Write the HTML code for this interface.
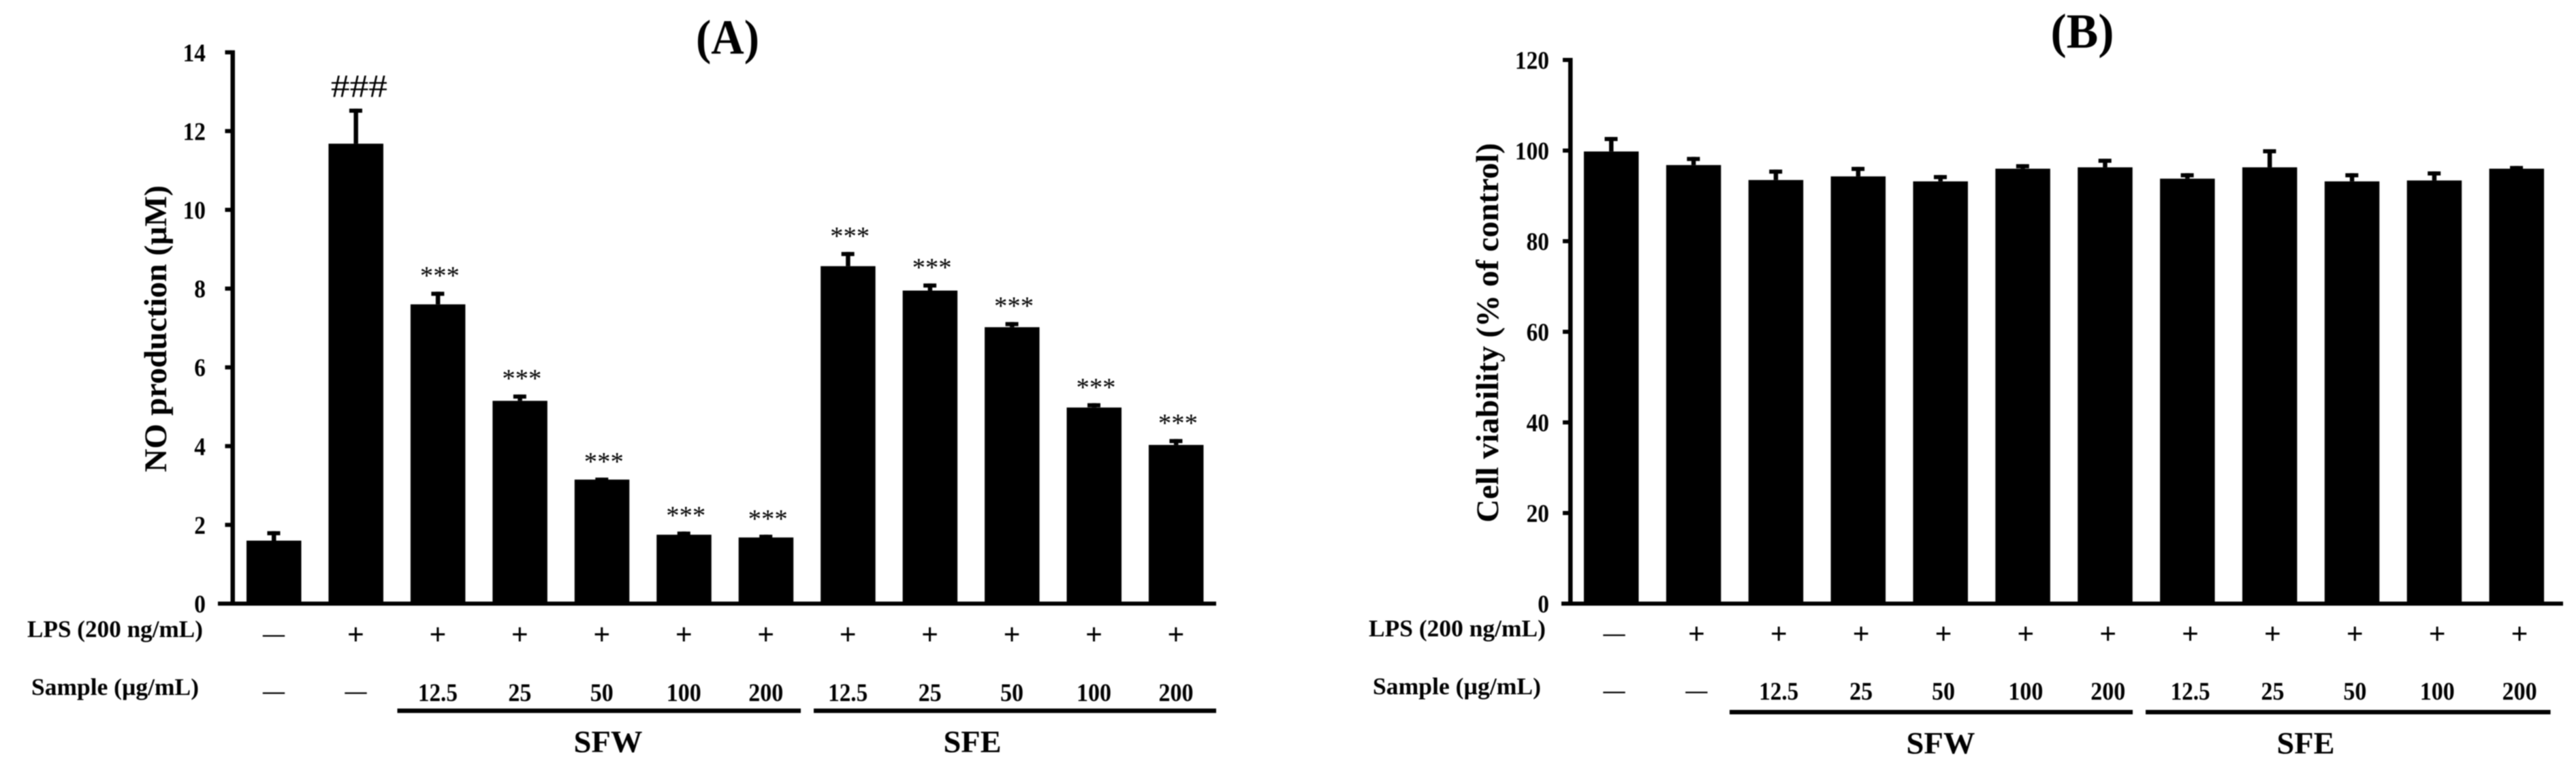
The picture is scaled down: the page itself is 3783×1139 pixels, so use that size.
<!DOCTYPE html>
<html lang="en">
<head>
<meta charset="utf-8">
<title>NO production and cell viability bar charts</title>
<style>
html,body{margin:0;padding:0;background:#fff;width:3783px;height:1139px;overflow:hidden}
svg{display:block;position:absolute;left:0;top:0}
text{font-family:"Liberation Serif","Times New Roman",serif;fill:#000}
</style>
</head>
<body>
<svg id="figure" xmlns="http://www.w3.org/2000/svg" width="3783" height="1139" viewBox="0 0 3783 1139">
<defs><filter id="soft" x="-5%" y="-5%" width="110%" height="110%"><feGaussianBlur stdDeviation="0.8"/></filter></defs>
<rect width="3783" height="1139" fill="#fff"/>
<g id="root" filter="url(#soft)"></g>
</svg>
<script>
const lpsRow = ['—','+','+','+','+','+','+','+','+','+','+','+'];
const sampleRow = ['—','—','12.5','25','50','100','200','12.5','25','50','100','200'];
const noValues = [1.6,11.68,7.6,5.15,3.15,1.75,1.68,8.57,7.95,7.02,4.98,4.03];
const noErrors = [0.24,0.89,0.32,0.16,0.05,0.08,0.07,0.36,0.18,0.13,0.11,0.15];
const noMarks = ['','###','***','***','***','***','***','***','***','***','***','***'];
const noTicks = [0,2,4,6,8,10,12,14];
const viabilityValues = [99.8,96.8,93.5,94.3,93.2,96,96.3,93.8,96.3,93.2,93.4,96];
const viabilityErrors = [3.2,1.8,2.3,2.1,1.4,1,1.9,1.2,4,1.8,2,0.6];
const viabilityTicks = [0,20,40,60,80,100,120];

const NS = 'http://www.w3.org/2000/svg';
const root = document.getElementById('root');

function rect(parent, name, x, y, w, h) {
  const el = document.createElementNS(NS, 'rect');
  
  
  el.setAttribute('x', x);
  el.setAttribute('y', y);
  el.setAttribute('width', w);
  el.setAttribute('height', h);
  el.setAttribute('fill', '#000');
  parent.appendChild(el);
  return el;
}

function label(parent, name, str, x, y, size, weight, anchor, len) {
  const el = document.createElementNS(NS, 'text');
  
  
  el.setAttribute('x', x);
  el.setAttribute('y', y);
  el.setAttribute('font-size', size);
  el.setAttribute('font-weight', weight);
  el.setAttribute('text-anchor', anchor);
  if (len) {
    el.setAttribute('textLength', len);
    el.setAttribute('lengthAdjust', 'spacingAndGlyphs');
  }
  el.textContent = str;
  parent.appendChild(el);
  return el;
}

function drawPanel(c) {
  const g = document.createElementNS(NS, 'g');
  
  
  root.appendChild(g);

  const y = v => c.y0 - v * c.yUnit;
  const x = i => c.x0 + c.pitch * i;
  const rowX = i => x(i) + c.rowShift;

  label(g, 'panel-title', c.title, c.titleX, c.titleY, 72, 'bold', 'middle', 93);

  // bars and error bars
  c.values.forEach((v, i) => {
    rect(g, 'bar-' + (i + 1), x(i) - 40, y(v), 80.5, c.y0 - y(v));
    const top = y(v + c.errors[i]);
    rect(g, 'error-stem-' + (i + 1), x(i) - 3, top, 6.5, y(v) - top);
    rect(g, 'error-cap-' + (i + 1), x(i) - 9.5, top, 19, 6);
    if (c.marks && c.marks[i]) {
      if (c.marks[i] === '###') {
        label(g, 'significance-hash', c.marks[i], x(i) + 5, top - 17, 48, 'normal', 'middle', 83);
      } else {
        label(g, 'significance-stars-' + (i + 1), c.marks[i], x(i) + 3, top - 11, 38, 'normal', 'middle', 58);
      }
    }
  });

  // axes
  const axisTop = y(c.ticks[c.ticks.length - 1]);
  rect(g, 'y-axis-line', c.axisX - 3, axisTop - 3, 6.5, c.y0 - axisTop + 6);
  rect(g, 'x-axis-line', c.baseStart, c.y0 - 3, c.baseEnd - c.baseStart, 6);
  c.ticks.forEach(t => {
    rect(g, 'y-tick-' + t, c.axisX - 11, y(t) - 3, 9, 6);
    label(g, 'y-tick-label-' + t, String(t), c.axisX - c.tickGap, y(t) + 13, 37, 'bold', 'end', String(t).length * 16.7);
  });

  // y axis title
  const title = label(g, 'y-axis-title', c.yTitle, 0, 0, 47, 'bold', 'middle', c.yTitleLen);
  title.setAttribute('transform', 'translate(' + c.yTitleX + ',' + c.yTitleY + ') rotate(-90)');

  // condition rows
  label(g, 'lps-row-label', 'LPS (200 ng/mL)', c.lpsX, c.lpsY, 35, 'bold', 'start', c.lpsLen);
  label(g, 'sample-row-label', 'Sample (µg/mL)', c.sampleX, c.sampleY, 35, 'bold', 'start', c.sampleLen);
  lpsRow.forEach((s, i) => {
    label(g, 'lps-value-' + (i + 1), s, rowX(i), s === '+' ? c.lpsY + 11 : c.lpsY + 6, s === '+' ? 44 : 32, 'bold', 'middle');
  });
  sampleRow.forEach((s, i) => {
    if (s === '—') {
      label(g, 'sample-value-' + (i + 1), s, rowX(i), c.sampleY + 5, 32, 'bold', 'middle');
    } else {
      label(g, 'sample-value-' + (i + 1), s, rowX(i), c.doseY, 37, 'bold', 'middle', (s === '12.5' ? 58 : s.length * 17));
    }
  });

  // group brackets
  rect(g, 'sfw-bracket', c.sfwStart, c.bracketY, c.sfwEnd - c.sfwStart, 6.5);
  rect(g, 'sfe-bracket', c.sfeStart, c.bracketY, c.sfeEnd - c.sfeStart, 6.5);
  label(g, 'sfw-group-label', 'SFW', c.sfwLabelX, c.groupY, 46, 'bold', 'middle', 101);
  label(g, 'sfe-group-label', 'SFE', c.sfeLabelX, c.groupY, 46, 'bold', 'middle', 85);
}

drawPanel({
  id: 'panel-a', title: '(A)', titleX: 1068.5, titleY: 79,
  values: noValues, errors: noErrors, marks: noMarks, ticks: noTicks,
  y0: 886, yUnit: 57.8, x0: 402, pitch: 120.45, rowShift: 0, axisX: 341.5, tickGap: 39.5, baseStart: 320, baseEnd: 1786,
  yTitle: 'NO production (µM)', yTitleLen: 421, yTitleX: 244, yTitleY: 482.5,
  lpsX: 40, lpsY: 935, lpsLen: 258, sampleX: 46, sampleY: 1020, sampleLen: 246, doseY: 1029,
  sfwStart: 583.5, sfwEnd: 1176, sfeStart: 1195, sfeEnd: 1786, bracketY: 1040,
  sfwLabelX: 893, sfeLabelX: 1428, groupY: 1104
});

drawPanel({
  id: 'panel-b', title: '(B)', titleX: 3058, titleY: 70,
  values: viabilityValues, errors: viabilityErrors, marks: null, ticks: viabilityTicks,
  y0: 886, yUnit: 6.65, x0: 2366, pitch: 120.87, rowShift: 4.5, axisX: 2306, tickGap: 31, baseStart: 2293, baseEnd: 3764,
  yTitle: 'Cell viability (% of control)', yTitleLen: 557, yTitleX: 2200, yTitleY: 488.5,
  lpsX: 2010, lpsY: 934, lpsLen: 260, sampleX: 2016, sampleY: 1019, sampleLen: 247, doseY: 1027,
  sfwStart: 2540, sfwEnd: 3132, sfeStart: 3151, sfeEnd: 3745.6, bracketY: 1042,
  sfwLabelX: 2850, sfeLabelX: 3386, groupY: 1106
});
</script>
</body>
</html>
